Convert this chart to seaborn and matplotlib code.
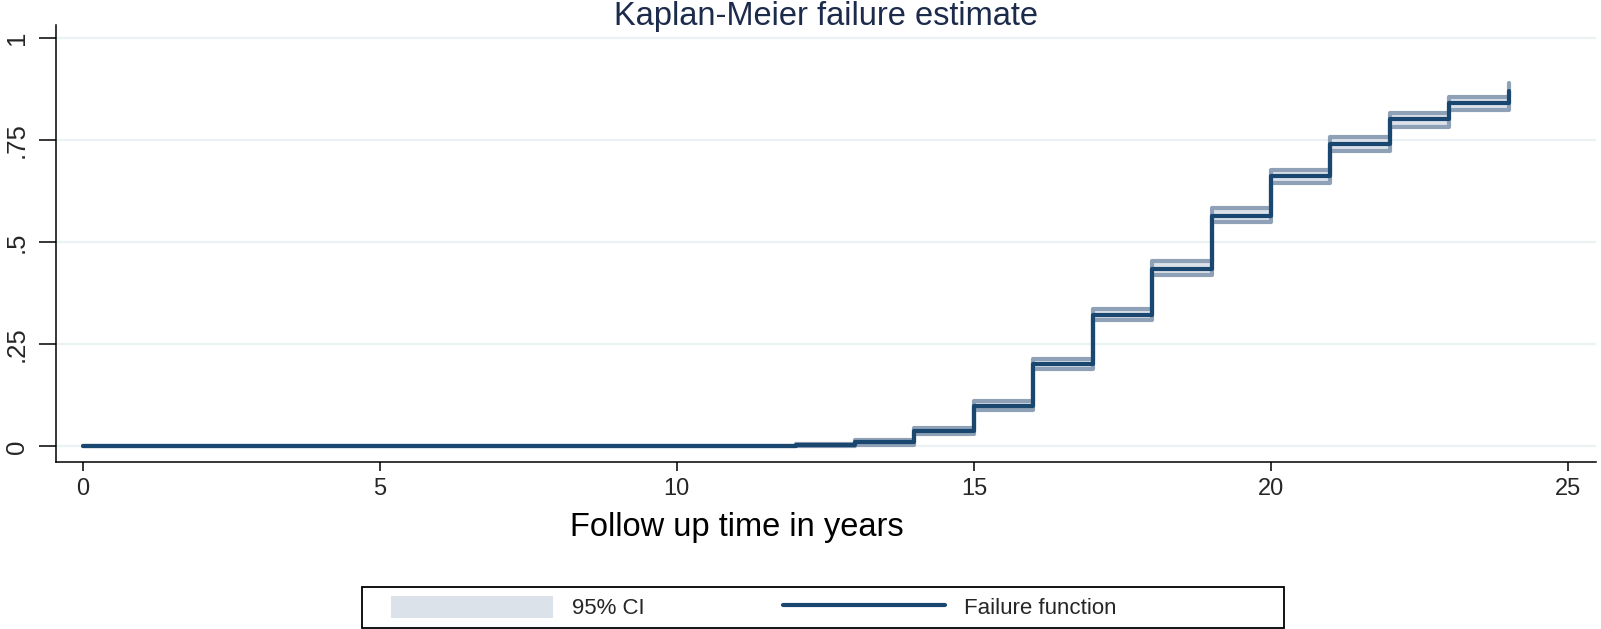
import matplotlib
matplotlib.use("Agg")
import matplotlib.pyplot as plt
from matplotlib.patches import Patch, Rectangle
from matplotlib.lines import Line2D
import seaborn as sns
import pandas as pd

# ---- data ----
times = [0, 12, 13, 14, 15, 16, 17, 18, 19, 20, 21, 22, 23, 24]
failure = [0, 0.003, 0.0105, 0.0375, 0.098, 0.201, 0.323, 0.4355, 0.5645, 0.662, 0.742, 0.802, 0.842, 0.871]
ci_upper = [0, 0.005, 0.016, 0.045, 0.111, 0.215, 0.336, 0.454, 0.583, 0.678, 0.757, 0.817, 0.856, 0.890]
ci_lower = [0, 0.001, 0.004, 0.031, 0.088, 0.190, 0.309, 0.419, 0.549, 0.645, 0.723, 0.783, 0.824, 0.850]
x_ticks = [0, 5, 10, 15, 20, 25]
y_ticks = [0, 0.25, 0.5, 0.75, 1]
y_tick_labels = ["0", ".25", ".5", ".75", "1"]
title = "Kaplan-Meier failure estimate"
x_label = "Follow up time in years"
legend_labels = ["95% CI", "Failure function"]

NAVY = "#1a476f"
CI_EDGE = "#8fa1b6"
CI_FILL = "#dce2ea"
GRID = "#eaf2f3"

sns.set_style("white")
plt.rcParams["font.family"] = ["Liberation Sans", "DejaVu Sans"]

W, H = 1601, 629
fig = plt.figure(figsize=(W / 100, H / 100), dpi=100)
left, right, top, bottom = 55.7, 1596, 25, 461.7
ax = fig.add_axes([left / W, 1 - bottom / H, (right - left) / W, (bottom - top) / H])

df = pd.DataFrame({"t": times, "f": failure, "lo": ci_lower, "hi": ci_upper})

ax.fill_between(df["t"], df["lo"], df["hi"], step="post", color=CI_FILL, lw=0, zorder=2)
sns.lineplot(data=df, x="t", y="hi", ax=ax, color=CI_EDGE, lw=3, drawstyle="steps-post",
             zorder=3, estimator=None, sort=False)
sns.lineplot(data=df, x="t", y="lo", ax=ax, color=CI_EDGE, lw=3, drawstyle="steps-post",
             zorder=3, estimator=None, sort=False)
sns.lineplot(data=df, x="t", y="f", ax=ax, color=NAVY, lw=3, drawstyle="steps-post",
             zorder=4, estimator=None, sort=False)

ax.set_xlim(-0.454, 25.47)
ax.set_ylim(-0.0377, 1.0326)
ax.set_xticks(x_ticks)
ax.set_xticklabels([str(v) for v in x_ticks])
ax.set_yticks(y_ticks)
ax.set_yticklabels(y_tick_labels)

for s in ["top", "right"]:
    ax.spines[s].set_visible(False)
for s in ["left", "bottom"]:
    ax.spines[s].set_color("black")
    ax.spines[s].set_linewidth(1.1)

ax.yaxis.grid(True, color=GRID, lw=1.6, zorder=0)
ax.xaxis.grid(False)
ax.set_axisbelow(True)

ax.tick_params(axis="y", length=12.5, width=1.1, color="black", labelsize=18.5,
               labelrotation=90, pad=7, left=True)
for lbl in ax.get_yticklabels():
    lbl.set_va("center")
ax.tick_params(axis="x", length=6.5, width=1.1, color="black", labelsize=17, pad=5, bottom=True)

ax.set_xlabel(x_label, fontsize=23.5, color="black")
ax.xaxis.set_label_coords((737 - left) / (right - left), (bottom - 512) / (bottom - top))
ax.xaxis.label.set_va("top")
ax.set_ylabel("")

fig.text(826 / W, 1 - 25 / H, title, ha="center", va="baseline", fontsize=23.5, color="#1c2b4b")

handles = [Patch(facecolor=CI_FILL, edgecolor="none"), Line2D([0], [0], color=NAVY, lw=3)]
leg = fig.legend(handles, legend_labels, ncol=2, frameon=False, loc="center left",
                 bbox_to_anchor=(380 / W, 1 - 607.5 / H), fontsize=16, borderpad=0,
                 handlelength=7.3, handleheight=1.2, handletextpad=0.85, columnspacing=6.2)
fig.patches.append(Rectangle((362 / W, 1 - 628 / H), (1284 - 362) / W, 41 / H,
                             transform=fig.transFigure, fill=False, edgecolor="black", lw=1.3))

fig.savefig("out.png", dpi=100)
